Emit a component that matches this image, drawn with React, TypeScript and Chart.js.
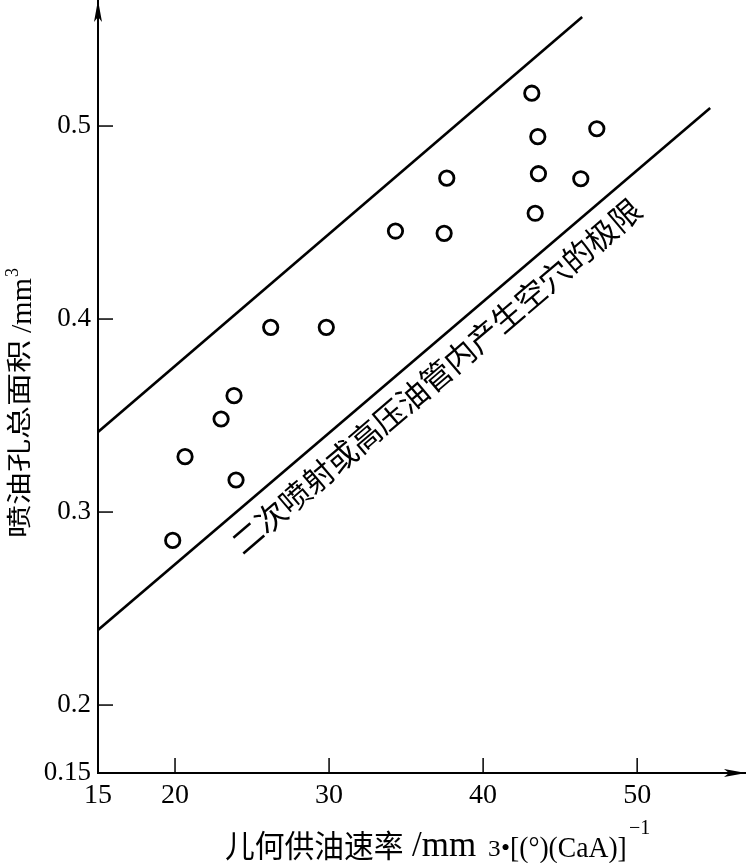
import React, { useEffect, useRef } from "react";
import { Chart, registerables } from "chart.js";

Chart.register(...registerables);

// ---- data ----
const pointX = [19.85, 20.65, 22.99, 23.83, 23.96, 26.21, 29.82, 34.31, 37.47, 37.64, 43.16, 43.38, 43.55, 43.59, 46.34, 47.38];
const pointY = [0.2853, 0.3287, 0.3482, 0.3603, 0.3166, 0.3957, 0.3957, 0.4456, 0.4444, 0.473, 0.517, 0.4548, 0.4945, 0.4753, 0.4727, 0.4986];
const upperLineX = [15, 46.43];
const upperLineY = [0.3415, 0.5565];
const lowerLineX = [15, 54.74];
const lowerLineY = [0.2389, 0.5093];
const xTickValues = [15, 20, 30, 40, 50];
const yTickValues = [0.2, 0.3, 0.4, 0.5];
const xMin = 15;
const xMax = 57;
const yMin = 0.1648;
const yMax = 0.5653;
const yOriginLabel = "0.15";
const limitLabel = "二次喷射或高压油管内产生空穴的极限";
const limitLabelAnchor = { x: 36.95, y: 0.3705 };
const xTitleText = ["儿何供油速率", "/mm", "3", "•", "[(°)(CaA)]", "−1"];
const yTitleText = ["喷油孔总面积", "/mm", "3"];

const SERIF = '"Liberation Serif", serif';
const CJK = '"Noto Sans CJK SC", sans-serif';

// layout of title pieces: font, size, x, baseline, horizontal squeeze
const xTitleLayout = [
  { font: CJK, size: 31, x: 225, y: 857, sq: 0.96 },
  { font: SERIF, size: 35, x: 412, y: 856, sq: 1 },
  { font: SERIF, size: 23, x: 488, y: 856, sq: 1.1 },
  { font: SERIF, size: 26, x: 501, y: 856, sq: 1 },
  { font: SERIF, size: 30, x: 510, y: 857, sq: 0.92 },
  { font: SERIF, size: 20, x: 629, y: 834, sq: 1 },
];
// rotated: pos = screen y where the piece starts (bottom), base = screen x of baseline
const yTitleLayout = [
  { font: CJK, size: 33, pos: 538, base: 28, sq: 0.75 },
  { font: SERIF, size: 30, pos: 333, base: 31, sq: 1 },
  { font: SERIF, size: 18, pos: 277, base: 18, sq: 1 },
];

const decorPlugin = {
  id: "decor",
  afterDraw(chart: any) {
    const { ctx, chartArea, scales } = chart;
    const xs = scales.x;
    const ys = scales.y;
    ctx.save();
    ctx.strokeStyle = "#000";
    ctx.fillStyle = "#000";
    ctx.lineWidth = 1.5;
    // inward ticks
    xTickValues.forEach((v) => {
      if (v === xMin) return;
      const px = xs.getPixelForValue(v);
      ctx.beginPath();
      ctx.moveTo(px, chartArea.bottom);
      ctx.lineTo(px, chartArea.bottom - 15);
      ctx.stroke();
    });
    yTickValues.forEach((v) => {
      const py = ys.getPixelForValue(v);
      ctx.beginPath();
      ctx.moveTo(chartArea.left, py);
      ctx.lineTo(chartArea.left + 15, py);
      ctx.stroke();
    });
    // arrows
    const ax = chartArea.left;
    ctx.beginPath();
    ctx.moveTo(ax, chartArea.top);
    ctx.lineTo(ax - 4, chartArea.top + 22);
    ctx.lineTo(ax, chartArea.top + 17);
    ctx.lineTo(ax + 4, chartArea.top + 22);
    ctx.closePath();
    ctx.fill();
    const ay = chartArea.bottom;
    const tip = chartArea.right + 1;
    ctx.beginPath();
    ctx.moveTo(tip, ay);
    ctx.lineTo(tip - 22, ay - 4);
    ctx.lineTo(tip - 17, ay);
    ctx.lineTo(tip - 22, ay + 4);
    ctx.closePath();
    ctx.fill();

    // axis titles
    ctx.textAlign = "left";
    ctx.textBaseline = "alphabetic";
    xTitleText.forEach((t, i) => {
      const L = xTitleLayout[i];
      ctx.save();
      ctx.translate(L.x, L.y);
      ctx.scale(L.sq, 1);
      ctx.font = `${L.size}px ${L.font}`;
      ctx.fillText(t, 0, 0);
      ctx.restore();
    });
    yTitleText.forEach((t, i) => {
      const L = yTitleLayout[i];
      ctx.save();
      ctx.translate(L.base, L.pos);
      ctx.rotate(-Math.PI / 2);
      ctx.scale(1, L.sq);
      ctx.font = `${L.size}px ${L.font}`;
      ctx.fillText(t, 0, 0);
      ctx.restore();
    });

    // limit label along the lower line
    const p1x = xs.getPixelForValue(lowerLineX[0]);
    const p1y = ys.getPixelForValue(lowerLineY[0]);
    const p2x = xs.getPixelForValue(lowerLineX[1]);
    const p2y = ys.getPixelForValue(lowerLineY[1]);
    const ang = Math.atan2(p2y - p1y, p2x - p1x);
    ctx.save();
    ctx.translate(xs.getPixelForValue(limitLabelAnchor.x), ys.getPixelForValue(limitLabelAnchor.y));
    ctx.rotate(ang);
    ctx.font = `31px ${CJK}`;
    ctx.textAlign = "center";
    ctx.textBaseline = "middle";
    ctx.fillText(limitLabel, 0, 0);
    ctx.restore();
    ctx.restore();
  },
};

export default function App() {
  const ref = useRef<HTMLCanvasElement | null>(null);
  useEffect(() => {
    if (!ref.current) return;
    const chart = new Chart(ref.current, {
      type: "scatter",
      data: {
        datasets: [
          {
            type: "line",
            data: upperLineX.map((x, i) => ({ x, y: upperLineY[i] })),
            borderColor: "#000",
            borderWidth: 2.6,
            pointRadius: 0,
            fill: false,
          } as any,
          {
            type: "line",
            data: lowerLineX.map((x, i) => ({ x, y: lowerLineY[i] })),
            borderColor: "#000",
            borderWidth: 2.6,
            pointRadius: 0,
            fill: false,
          } as any,
          {
            type: "scatter",
            data: pointX.map((x, i) => ({ x, y: pointY[i] })),
            pointStyle: "circle",
            pointRadius: 7.2,
            pointBorderWidth: 2.8,
            borderColor: "#000",
            backgroundColor: "#fff",
            pointBackgroundColor: "#fff",
            pointBorderColor: "#000",
          } as any,
        ],
      },
      options: {
        animation: false,
        responsive: false,
        layout: { autoPadding: false, padding: { top: 0, right: 3, bottom: 0, left: 0 } },
        plugins: { legend: { display: false }, tooltip: { enabled: false } },
        scales: {
          x: {
            type: "linear",
            min: xMin,
            max: xMax,
            afterBuildTicks: (s: any) => {
              s.ticks = xTickValues.map((v) => ({ value: v }));
            },
            afterFit: (s: any) => {
              s.height = 90;
              s.paddingLeft = 0;
              s.paddingRight = 0;
            },
            border: { display: true, color: "#000", width: 2 },
            grid: { drawOnChartArea: false, drawTicks: false },
            ticks: {
              autoSkip: false,
              maxRotation: 0,
              padding: 6,
              color: "#000",
              font: { family: SERIF, size: 28 },
              callback: (v: any) => String(v),
            },
          },
          y: {
            type: "linear",
            min: yMin,
            max: yMax,
            afterBuildTicks: (s: any) => {
              s.ticks = [{ value: yMin }, ...yTickValues.map((v) => ({ value: v }))];
            },
            afterFit: (s: any) => {
              s.width = 98;
              s.paddingTop = 0;
              s.paddingBottom = 0;
            },
            border: { display: true, color: "#000", width: 2 },
            grid: { drawOnChartArea: false, drawTicks: false },
            ticks: {
              autoSkip: false,
              padding: 7,
              color: "#000",
              font: { family: SERIF, size: 27 },
              callback: (v: any) => (Math.abs(v - yMin) < 1e-6 ? yOriginLabel : Number(v).toFixed(1)),
            },
          },
        },
      },
      plugins: [decorPlugin],
    } as any);
    return () => chart.destroy();
  }, []);
  return (
    <div style={{ position: "fixed", left: 0, top: 0, width: 748, height: 863, background: "#fff" }}>
      <canvas ref={ref} width={748} height={863} />
    </div>
  );
}
